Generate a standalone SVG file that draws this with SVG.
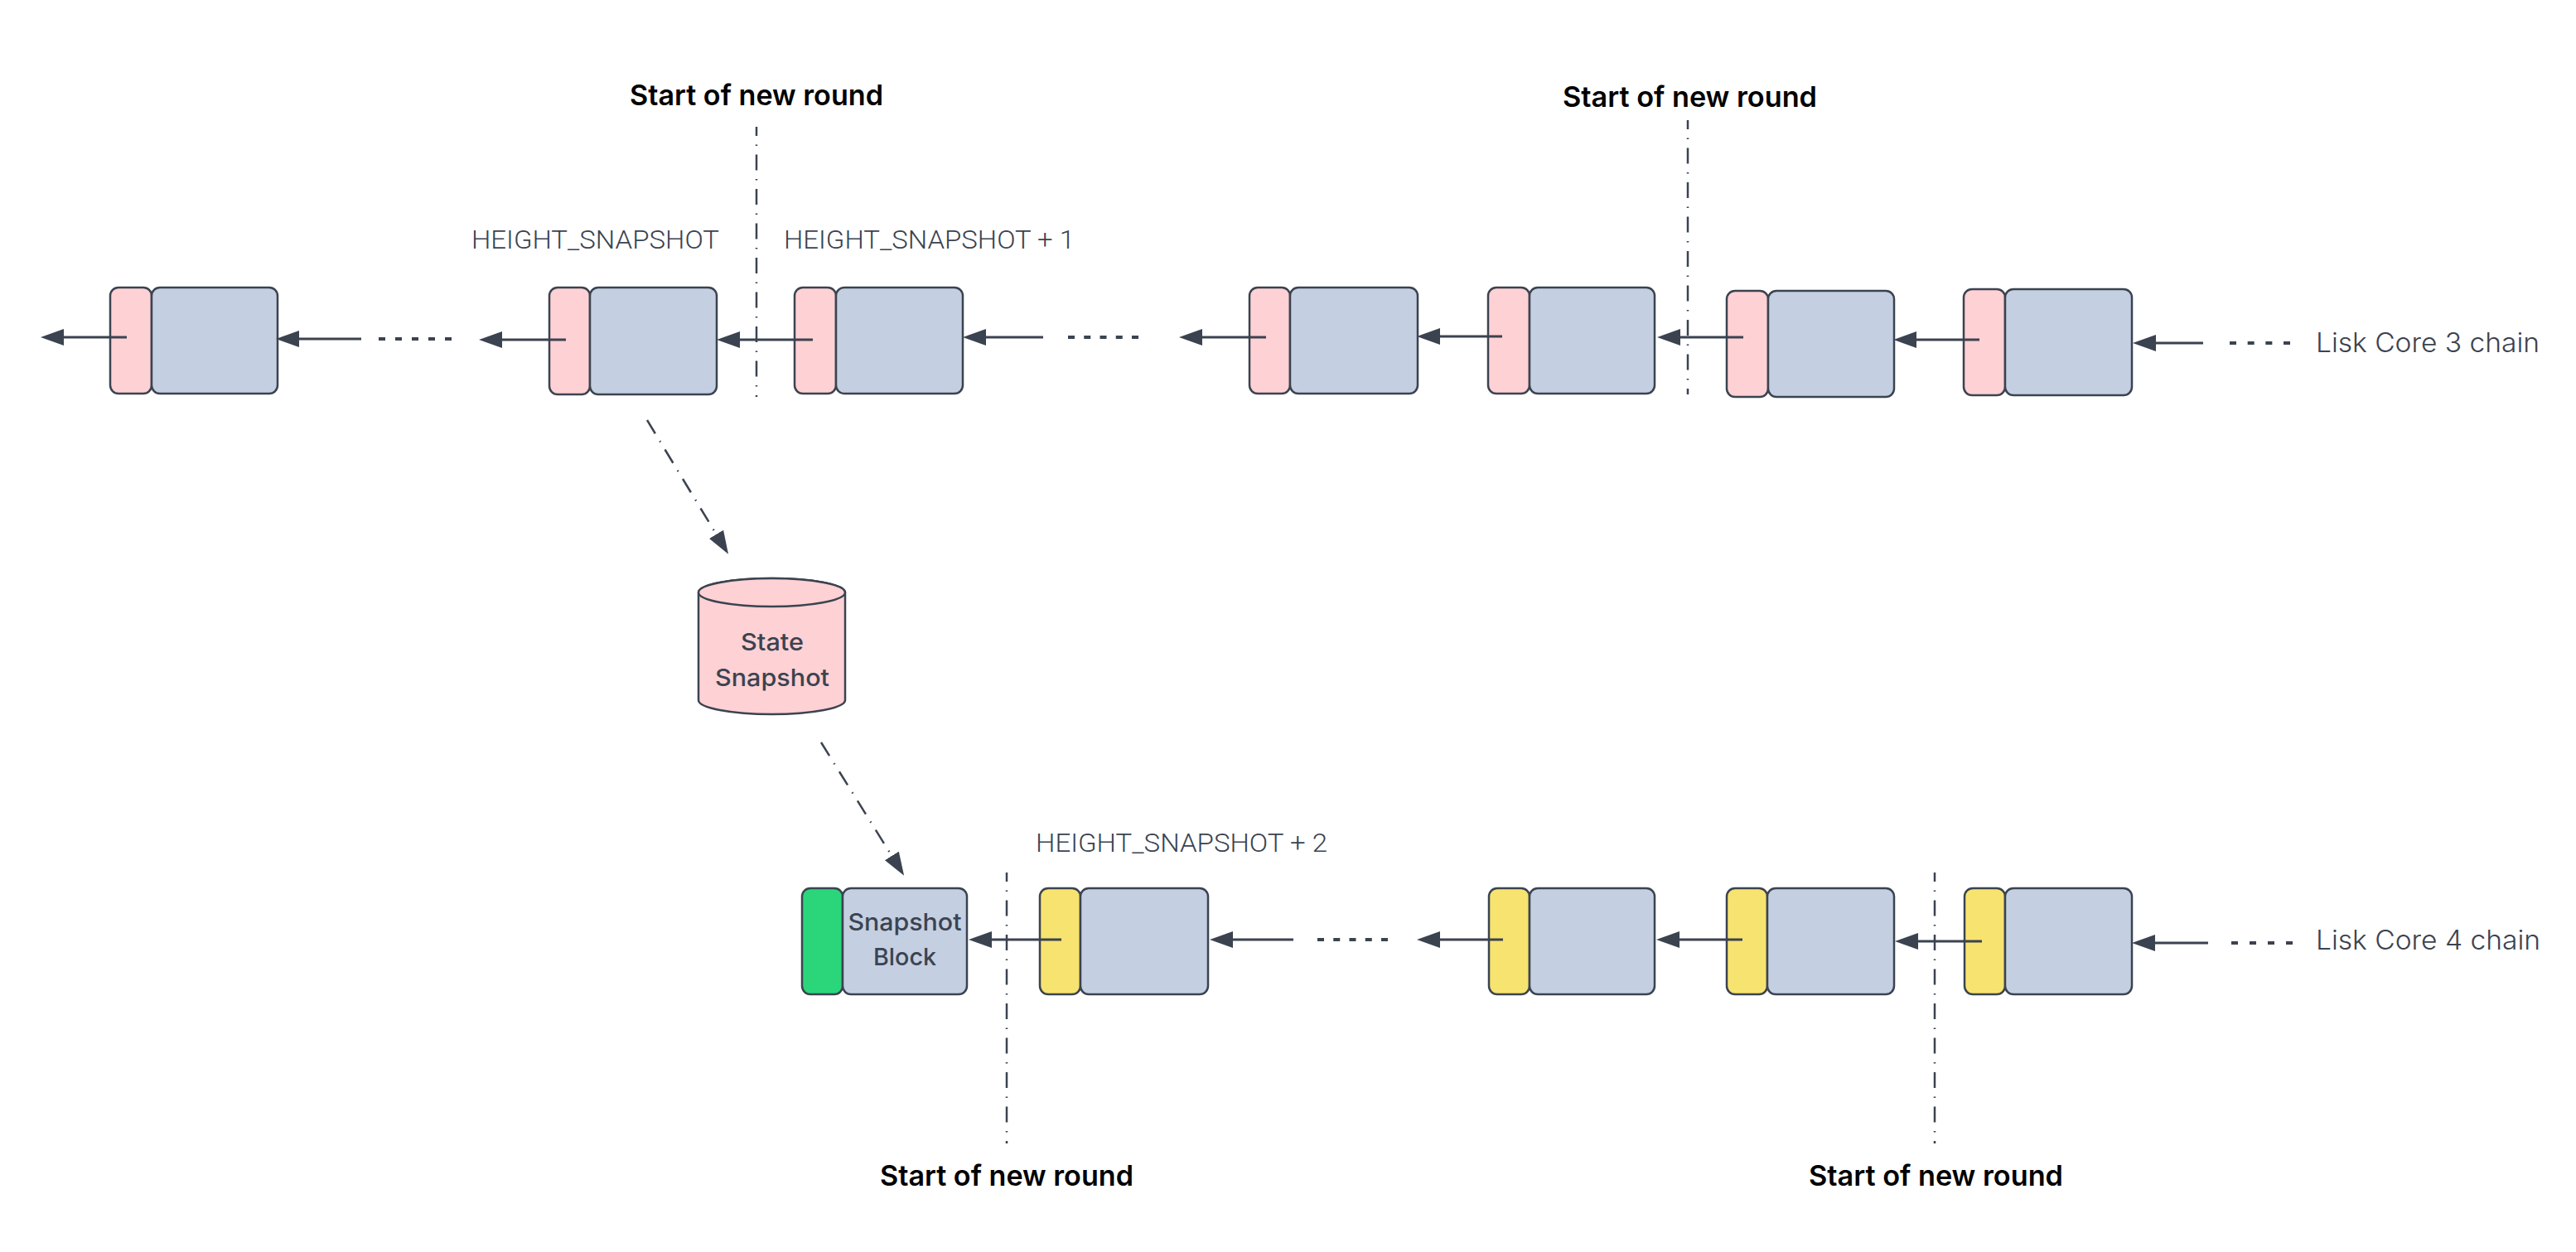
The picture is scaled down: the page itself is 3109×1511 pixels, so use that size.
<svg xmlns="http://www.w3.org/2000/svg" width="3109" height="1511" viewBox="0 0 3109 1511">
  <style>
    .pink { fill: #fed1d4; stroke: #3b4350; stroke-width: 2.5; }
    .yellow { fill: #f7e36f; stroke: #3b4350; stroke-width: 2.5; }
    .green { fill: #2bd67b; stroke: #3b4350; stroke-width: 2.5; }
    .body { fill: #c4cfe2; stroke: #3b4350; stroke-width: 2.5; }
    .link { fill: none; stroke: #3b4350; stroke-width: 3; marker-end: url(#head); }
    .dots { fill: none; stroke: #3b4350; stroke-width: 4; }
    .round { fill: none; stroke: #3b4350; stroke-width: 2.5; stroke-dasharray: 19 10.5 1.5 10.5; stroke-dashoffset: 8; }
    .flow { fill: none; stroke: #3b4350; stroke-width: 2.5; stroke-dasharray: 19 10.5 1.5 10.5; marker-end: url(#head); }
    .title { font-family: Inter, "Liberation Sans", sans-serif; font-weight: 600; font-size: 34px; fill: #000000; }
    .height { font-family: Roboto, "Liberation Sans", sans-serif; font-weight: 300; font-size: 32px; fill: #3b4350; }
    .chain { font-family: Inter, "Liberation Sans", sans-serif; font-weight: 300; font-size: 32px; fill: #3b4350; }
    .inner { font-family: Inter, "Liberation Sans", sans-serif; font-weight: 500; font-size: 29px; fill: #3b4350; text-anchor: middle; }
  </style>
  <defs>
    <marker id="head" viewBox="0 0 28 20" refX="0" refY="10" markerWidth="28" markerHeight="20" markerUnits="userSpaceOnUse" orient="auto">
      <path d="M0,0 L28,10 L0,20 Z" fill="#3b4350"/>
    </marker>
  </defs>

  <rect x="0" y="0" width="3109" height="1511" fill="#ffffff"/>

  <!-- round boundaries -->
  <g id="round-lines">
    <path class="round" d="M913,153 V479"/>
    <path class="round" d="M2037,145 V476"/>
    <path class="round" d="M1215,1053 V1380"/>
    <path class="round" d="M2335,1053 V1380"/>
  </g>

  <!-- labels -->
  <g id="labels">
    <text class="title" x="760" y="127" textLength="306" lengthAdjust="spacingAndGlyphs">Start of new round</text>
    <text class="title" x="1886" y="129" textLength="307" lengthAdjust="spacingAndGlyphs">Start of new round</text>
    <text class="title" x="1062" y="1431" textLength="306" lengthAdjust="spacingAndGlyphs">Start of new round</text>
    <text class="title" x="2183" y="1431" textLength="307" lengthAdjust="spacingAndGlyphs">Start of new round</text>
    <text class="height" x="569" y="300" textLength="299" lengthAdjust="spacingAndGlyphs">HEIGHT_SNAPSHOT</text>
    <text class="height" x="946" y="300" textLength="351" lengthAdjust="spacingAndGlyphs">HEIGHT_SNAPSHOT + 1</text>
    <text class="height" x="1250" y="1028" textLength="352" lengthAdjust="spacingAndGlyphs">HEIGHT_SNAPSHOT + 2</text>
    <text class="chain" x="2795" y="425" textLength="270" lengthAdjust="spacingAndGlyphs">Lisk Core 3 chain</text>
    <text class="chain" x="2795" y="1146" textLength="271" lengthAdjust="spacingAndGlyphs">Lisk Core 4 chain</text>
  </g>

  <!-- Lisk Core 3 chain blocks -->
  <g id="core3-block-1">
    <rect class="pink" x="133" y="347" width="50" height="128" rx="10"/>
    <rect class="body" x="183" y="347" width="152" height="128" rx="10"/>
  </g>
  <g id="core3-block-snapshot-height">
    <rect class="pink" x="663" y="347" width="49" height="129" rx="10"/>
    <rect class="body" x="712" y="347" width="153" height="129" rx="10"/>
  </g>
  <g id="core3-block-snapshot-height-plus-1">
    <rect class="pink" x="959" y="347" width="50" height="128" rx="10"/>
    <rect class="body" x="1009" y="347" width="153" height="128" rx="10"/>
  </g>
  <g id="core3-block-4">
    <rect class="pink" x="1508" y="347" width="49" height="128" rx="10"/>
    <rect class="body" x="1557" y="347" width="154" height="128" rx="10"/>
  </g>
  <g id="core3-block-5">
    <rect class="pink" x="1796" y="347" width="50" height="128" rx="10"/>
    <rect class="body" x="1846" y="347" width="151" height="128" rx="10"/>
  </g>
  <g id="core3-block-6">
    <rect class="pink" x="2084" y="351" width="50" height="128" rx="10"/>
    <rect class="body" x="2134" y="351" width="152" height="128" rx="10"/>
  </g>
  <g id="core3-block-7">
    <rect class="pink" x="2370" y="349" width="50" height="128" rx="10"/>
    <rect class="body" x="2420" y="349" width="153" height="128" rx="10"/>
  </g>

  <!-- state snapshot store -->
  <g id="state-snapshot">
    <path fill="#fed1d4" stroke="#3b4350" stroke-width="2.5" d="M843,715 V845 A88.5,17 0 0 0 1020,845 V715 A88.5,17 0 0 0 843,715 Z"/>
    <ellipse cx="931.5" cy="715" rx="88.5" ry="17" fill="#fed1d4" stroke="#3b4350" stroke-width="2.5"/>
    <text class="inner" x="932" y="785" textLength="76" lengthAdjust="spacingAndGlyphs">State</text>
    <text class="inner" x="932" y="828" textLength="138" lengthAdjust="spacingAndGlyphs">Snapshot</text>
  </g>

  <!-- Lisk Core 4 chain blocks -->
  <g id="core4-snapshot-block">
    <rect class="green" x="968" y="1072" width="49" height="128" rx="10"/>
    <rect class="body" x="1017" y="1072" width="150" height="128" rx="10"/>
    <text class="inner" x="1092" y="1123" textLength="137" lengthAdjust="spacingAndGlyphs">Snapshot</text>
    <text class="inner" x="1092" y="1165" textLength="76" lengthAdjust="spacingAndGlyphs">Block</text>
  </g>
  <g id="core4-block-snapshot-height-plus-2">
    <rect class="yellow" x="1255" y="1072" width="49" height="128" rx="10"/>
    <rect class="body" x="1304" y="1072" width="154" height="128" rx="10"/>
  </g>
  <g id="core4-block-3">
    <rect class="yellow" x="1797" y="1072" width="49" height="128" rx="10"/>
    <rect class="body" x="1846" y="1072" width="151" height="128" rx="10"/>
  </g>
  <g id="core4-block-4">
    <rect class="yellow" x="2084" y="1072" width="49" height="128" rx="10"/>
    <rect class="body" x="2133" y="1072" width="153" height="128" rx="10"/>
  </g>
  <g id="core4-block-5">
    <rect class="yellow" x="2371" y="1072" width="49" height="128" rx="10"/>
    <rect class="body" x="2420" y="1072" width="153" height="128" rx="10"/>
  </g>

  <!-- connectors -->
  <g id="connectors">
    <!-- Lisk Core 3 chain links -->
    <path class="link" d="M153,407 H77"/>
    <path class="link" d="M436,409 H361"/>
    <path class="dots" d="M457,409 H545" stroke-dasharray="8 12"/>
    <path class="link" d="M683,410 H606"/>
    <path class="link" d="M981,410 H893"/>
    <path class="link" d="M1259,407 H1190"/>
    <path class="dots" d="M1289,407 H1374" stroke-dasharray="8 11.25"/>
    <path class="link" d="M1528,407 H1451"/>
    <path class="link" d="M1813,406 H1738"/>
    <path class="link" d="M2104,407 H2028"/>
    <path class="link" d="M2389,410 H2313"/>
    <path class="link" d="M2659,414 H2602"/>
    <path class="dots" d="M2691,414 H2764" stroke-dasharray="8 13.67"/>

    <!-- snapshot flow -->
    <path class="flow" d="M781,507 L864.5,644.8"/>
    <path class="flow" d="M991,896 L1076.3,1032.9"/>

    <!-- Lisk Core 4 chain links -->
    <path class="link" d="M1281,1134 H1197"/>
    <path class="link" d="M1561,1134 H1488"/>
    <path class="dots" d="M1590,1134 H1675" stroke-dasharray="8 11.25"/>
    <path class="link" d="M1814,1134 H1738"/>
    <path class="link" d="M2103,1134 H2027"/>
    <path class="link" d="M2392,1136 H2315"/>
    <path class="link" d="M2665,1138 H2601"/>
    <path class="dots" d="M2693,1138 H2767" stroke-dasharray="8 14"/>
  </g>
</svg>
